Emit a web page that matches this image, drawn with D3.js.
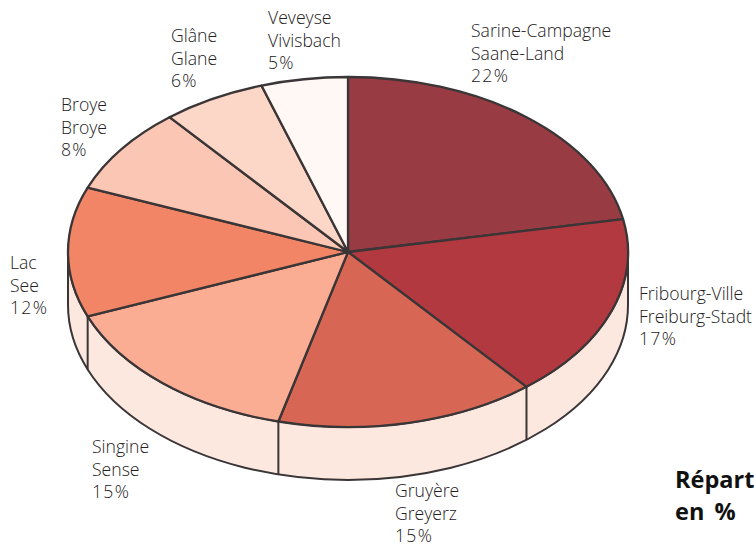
<!DOCTYPE html>
<html>
<head>
<meta charset="utf-8">
<script src="https://cdnjs.cloudflare.com/ajax/libs/d3/7.8.5/d3.min.js"></script>
<style>
  html, body { margin: 0; padding: 0; background: #fff; overflow: hidden; }
  text { font-family: "Open Sans", "Noto Sans", sans-serif; fill: #232021; }
  .lab { font-size: 17.6px; font-weight: 300; }
  .pct { letter-spacing: 1.3px; }
  .title { font-size: 23.5px; font-weight: 700; fill: #111; word-spacing: 4px; }
</style>
</head>
<body>
<svg id="chart" width="754" height="547"></svg>
<script>
// districts, clockwise from 12 o'clock
const namesFr = ['Sarine-Campagne', 'Fribourg-Ville', 'Gruyère', 'Singine', 'Lac', 'Broye', 'Glâne', 'Veveyse'];
const namesDe = ['Saane-Land', 'Freiburg-Stadt', 'Greyerz', 'Sense', 'See', 'Broye', 'Glane', 'Vivisbach'];
const shares = [22, 17, 15, 15, 12, 8, 6, 5];
const colors = ['#983b43', '#b2393f', '#d76754', '#fbad94', '#f28566', '#fbc7b4', '#fcd6c6', '#fff8f4'];

// top left of each label: x, first baseline
const labelX = [471, 639, 395, 92, 10, 61, 171, 268];
const labelY = [37, 300, 497, 453, 269, 111, 42, 24];
const lineGap = 22.7;

const cx = 348, cy = 252,
      rx = 280, ry = 175,
      depth = 53;

const ink = '#3a3536';
const wallFill = '#fde8df';

const svg = d3.select('#chart');

const pie = d3.pie().sort(null).value(d => d);
const slices = pie(shares);

const arc = d3.arc().innerRadius(0).outerRadius(rx);

const x = a => cx + rx * Math.sin(a);
const y = a => cy - ry * Math.cos(a);

// the wall: lower half of the ellipse, pushed down
const wall = 'M' + (cx + rx) + ',' + cy
  + 'V' + (cy + depth)
  + 'A' + rx + ',' + ry + ' 0 0 1 ' + (cx - rx) + ',' + (cy + depth)
  + 'V' + cy
  + 'A' + rx + ',' + ry + ' 0 0 0 ' + (cx + rx) + ',' + cy + 'Z';

svg.append('path')
   .attr('d', wall)
   .attr('fill', wallFill)
   .attr('stroke', ink)
   .attr('stroke-width', 2);

// dividers on the wall, only for slice edges on the front half
svg.selectAll('line.edge')
   .data(slices.filter(d => d.endAngle > Math.PI / 2 && d.endAngle < Math.PI * 1.5))
   .enter()
   .append('line')
   .attr('class', 'edge')
   .attr('x1', d => x(d.endAngle))
   .attr('x2', d => x(d.endAngle))
   .attr('y1', d => y(d.endAngle))
   .attr('y2', d => y(d.endAngle) + depth)
   .attr('stroke', ink)
   .attr('stroke-width', 2);

// top face, circle arcs squashed to an ellipse
const topFace = svg.append('g')
   .attr('transform', 'translate(' + cx + ',' + cy + ') scale(1,' + (ry / rx) + ')');

topFace.selectAll('path')
   .data(slices)
   .enter()
   .append('path')
   .attr('d', arc)
   .attr('fill', (d, i) => colors[i])
   .attr('stroke', ink)
   .attr('stroke-width', 2.3)
   .attr('stroke-linejoin', 'round')
   .attr('vector-effect', 'non-scaling-stroke');

const labels = svg.selectAll('text.lab')
   .data(shares)
   .enter()
   .append('text')
   .attr('class', 'lab')
   .attr('x', (d, i) => labelX[i])
   .attr('y', (d, i) => labelY[i]);

labels.each(function(d, i) {
  [namesFr[i], namesDe[i], d + '%'].forEach((t, j) => {
    d3.select(this).append('tspan')
      .attr('class', j === 2 ? 'pct' : null)
      .attr('x', labelX[i])
      .attr('y', labelY[i] + j * lineGap)
      .text(t);
  });
});

svg.append('text').attr('class', 'title').attr('x', 675).attr('y', 488).text('Répart');
svg.append('text').attr('class', 'title').attr('x', 675).attr('y', 520).text('en %');
</script>
</body>
</html>
